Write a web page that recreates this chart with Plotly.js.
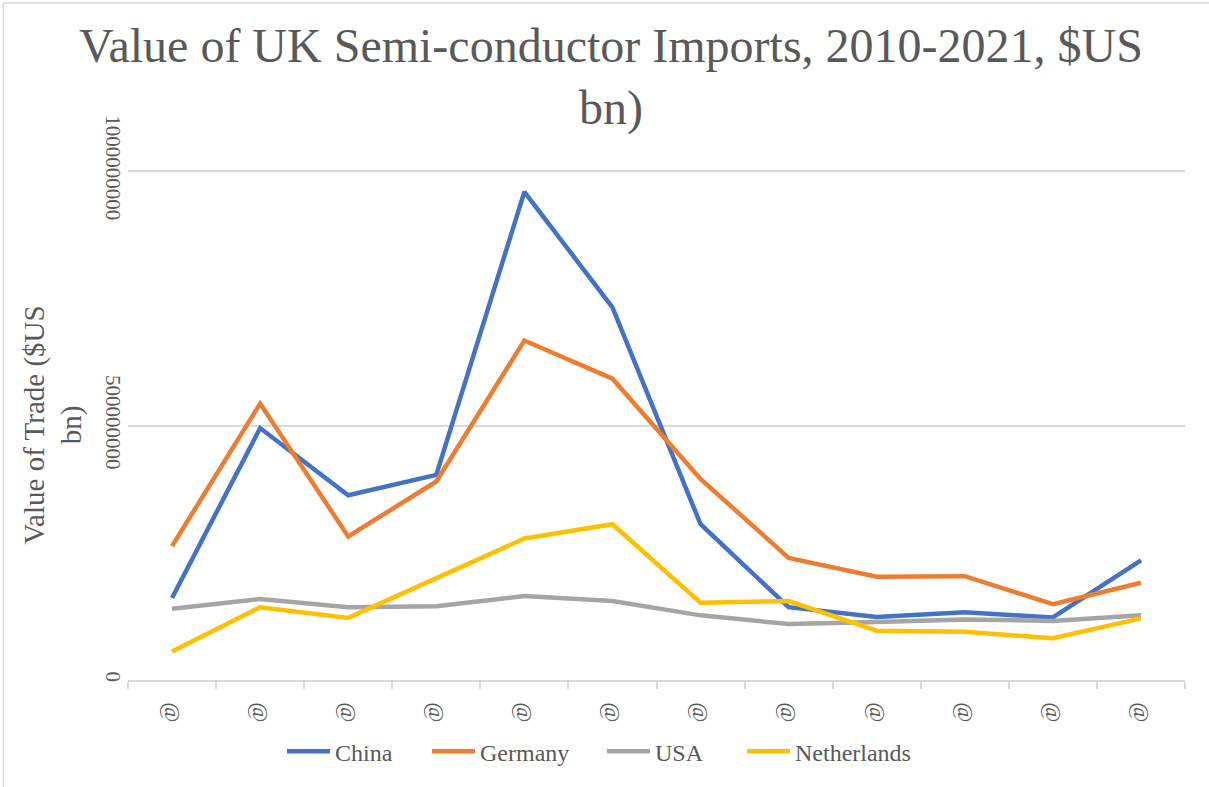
<!DOCTYPE html>
<html>
<head>
<meta charset="utf-8">
<script src="https://cdn.plot.ly/plotly-3.0.1.min.js"></script>
<style>
  html, body { margin: 0; padding: 0; background: #ffffff; }
  #chart { width: 1209px; height: 787px; }
</style>
</head>
<body>
<div id="chart"></div>
<script>
// Year slots along the x axis, and the tick text each slot shows
const years = ['2010', '2011', '2012', '2013', '2014', '2015', '2016', '2017', '2018', '2019', '2020', '2021'];
const yearLabels = ['@', '@', '@', '@', '@', '@', '@', '@', '@', '@', '@', '@'];

// Import values per partner country, in US dollars
const china       = [161e6, 495e6, 363e6, 403e6, 959e6, 732e6, 306e6, 143e6, 124e6, 133e6, 123e6, 235e6];
const germany     = [263e6, 543e6, 282e6, 390e6, 667e6, 592e6, 395e6, 240e6, 203e6, 204e6, 149e6, 191e6];
const usa         = [140e6, 159e6, 143e6, 145e6, 165e6, 155e6, 127e6, 110e6, 114e6, 119e6, 116e6, 127e6];
const netherlands = [ 56e6, 143e6, 122e6, 200e6, 278e6, 306e6, 152e6, 155e6,  97e6,  95e6,  82e6, 121e6];

const yTicks = [0, 500000000, 1000000000];
const yTickText = ['0', '500000000', '1000000000'];

const textGrey = '#595959';
const lineGrey = '#d9d9d9';
const serif = 'Liberation Serif, Tinos, Times New Roman, Times, DejaVu Serif, Noto Serif, serif';

function series(name, values, color, legendId) {
  return {
    type: 'scatter',
    mode: 'lines',
    name: name,
    x: years,
    y: values,
    legend: legendId,
    line: { color: color, width: 4.5, shape: 'linear' },
    hoverinfo: 'x+y+name'
  };
}

const data = [
  series('China', china, '#4472C4', 'legend'),
  series('Germany', germany, '#ED7D31', 'legend2'),
  series('USA', usa, '#A5A5A5', 'legend3'),
  series('Netherlands', netherlands, '#FFC000', 'legend4')
];

// one legend box per series, spread along the bottom of the chart
function legendAt(px) {
  return {
    orientation: 'h',
    x: px / 1209,
    xref: 'container',
    xanchor: 'left',
    y: 0.045,
    yref: 'container',
    yanchor: 'middle',
    font: { family: serif, size: 24, color: textGrey },
    bgcolor: 'rgba(0,0,0,0)',
    itemwidth: 43
  };
}

const layout = {
  width: 1209,
  height: 787,
  paper_bgcolor: '#ffffff',
  plot_bgcolor: '#ffffff',
  margin: { l: 128, r: 24, t: 170, b: 107, pad: 0 },
  font: { family: serif, color: textGrey },
  title: {
    text: 'Value of UK Semi-conductor Imports, 2010-2021, $US<br>bn)',
    font: { family: serif, size: 48, color: textGrey },
    xref: 'container',
    x: 0.5054,
    xanchor: 'center',
    yref: 'container',
    y: 0.9215,
    yanchor: 'top'
  },
  xaxis: {
    type: 'category',
    range: [-0.5, 11.5],
    tickmode: 'array',
    tickvals: years,
    ticktext: yearLabels,
    tickson: 'boundaries',
    ticks: 'outside',
    ticklen: 7,
    tickwidth: 1.5,
    tickcolor: lineGrey,
    tickangle: 90,
    ticklabelstandoff: 16,
    tickfont: { family: serif, size: 22, color: textGrey },
    showline: true,
    linecolor: lineGrey,
    linewidth: 1.5,
    showgrid: false,
    zeroline: false,
    fixedrange: true
  },
  yaxis: {
    range: [0, 1002000000],
    tickmode: 'array',
    tickvals: yTicks,
    ticktext: yTickText,
    tickangle: 90,
    tickfont: { family: serif, size: 21, color: textGrey },
    ticks: '',
    showgrid: true,
    gridcolor: lineGrey,
    gridwidth: 1.5,
    zeroline: false,
    showline: false,
    automargin: false,
    fixedrange: true,
    title: {
      text: 'Value of Trade ($US<br>bn)',
      font: { family: serif, size: 29, color: textGrey },
      standoff: 10
    }
  },
  legend: legendAt(282),
  legend2: legendAt(427),
  legend3: legendAt(602),
  legend4: legendAt(742),
  shapes: [
    // outer frame edges along the top and left of the chart area
    { type: 'line', xref: 'paper', yref: 'paper', x0: -0.118, x1: 1.2, y0: 1.3275, y1: 1.3275,
      line: { color: lineGrey, width: 1.5 } },
    { type: 'line', xref: 'paper', yref: 'paper', x0: -0.118, x1: -0.118, y0: 1.3275, y1: -0.25,
      line: { color: lineGrey, width: 1.5 } }
  ],
  showlegend: true
};

Plotly.newPlot('chart', data, layout, { displayModeBar: false, staticPlot: false });
</script>
</body>
</html>
